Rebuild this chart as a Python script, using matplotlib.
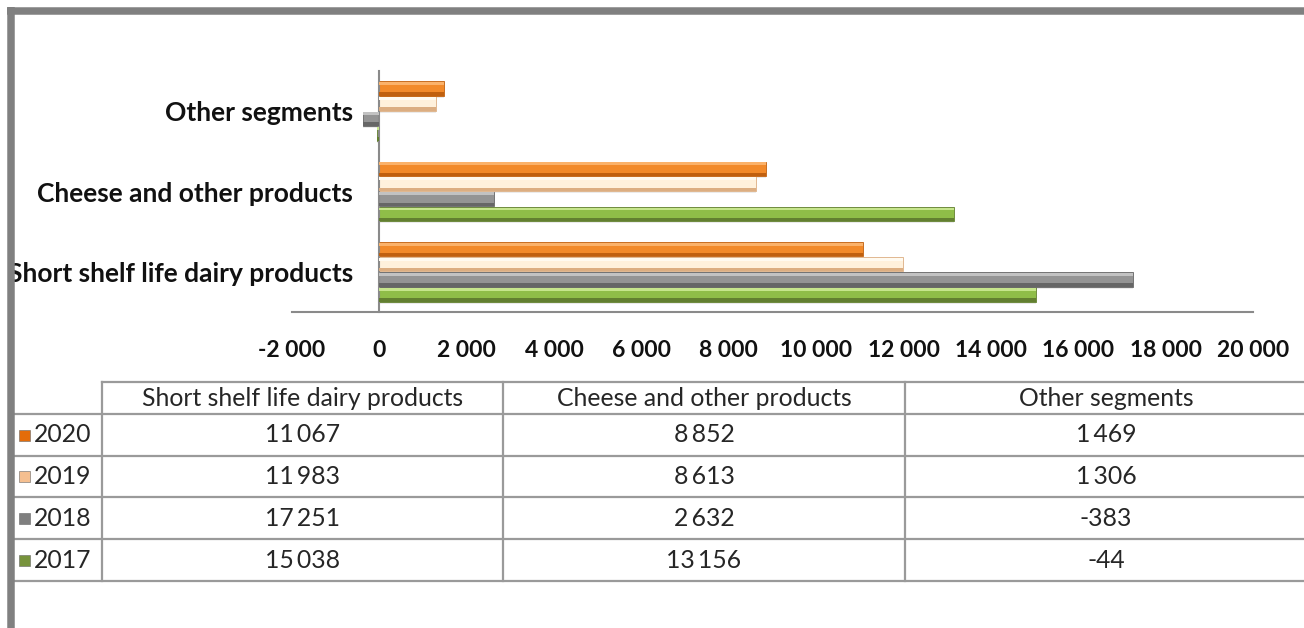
import numpy as np
import matplotlib
matplotlib.use('Agg')
import matplotlib.pyplot as plt
from matplotlib.patches import Rectangle
from matplotlib.lines import Line2D

plt.rcParams['font.family'] = ['Lato', 'DejaVu Sans']

# --- data ---
categories = ['Short shelf life dairy products', 'Cheese and other products', 'Other segments']
years = ['2017', '2018', '2019', '2020']
values = {
    '2017': [15038, 13156, -44],
    '2018': [17251, 2632, -383],
    '2019': [11983, 8613, 1306],
    '2020': [11067, 8852, 1469],
}
xticks = np.arange(-2000, 20001, 2000)

# bar colours: (main, highlight, shadow)
colors = {
    '2017': ('#8fbd48', '#c6e58c', '#627f30'),
    '2018': ('#949494', '#c2c2c2', '#666666'),
    '2019': ('#fff1dc', '#fffaf0', '#dcae82'),
    '2020': ('#f28a2a', '#fbb26a', '#c0600f'),
}
key_colors = {'2017': '#77933c', '2018': '#7f7f7f', '2019': '#f5bf90', '2020': '#e46c0a'}

W, H = 1304, 628
fig = plt.figure(figsize=(W / 100, H / 100), dpi=100)

def fx(px):
    return px / W

def fy(py):
    return 1 - py / H

# --- bar chart ---
ax = fig.add_axes([fx(292), fy(312), fx(1253 - 292), (312 - 71) / H])
# spine position first: it resets the tick label properties
ax.spines['left'].set_position(('data', 0))

pitch = 0.1875
bh = 0.178
y = np.arange(len(categories))
for i, yr in enumerate(years):
    yy = y + (i - 1.5) * pitch
    v = np.array(values[yr])
    main, hi, lo = colors[yr]
    # soft shadow
    ax.barh(yy - 0.028, v, height=bh, color='#000000', alpha=0.08, zorder=1)
    ax.barh(yy, v, height=bh, color=main, edgecolor=lo, linewidth=0.6, zorder=2)
    ax.barh(yy - bh / 2, v, height=bh * 0.24, align='edge', color=lo, linewidth=0, zorder=3)
    ax.barh(yy + bh / 2 - bh * 0.24, v, height=bh * 0.2, align='edge', color=hi, linewidth=0, zorder=3)

ax.set_xlim(-2000, 20000)
ax.set_ylim(-0.5, 2.5)
ax.set_xticks(xticks)
ax.set_xticklabels(['{:,}'.format(t).replace(',', ' ') for t in xticks],
                   fontsize=16.5, fontweight='bold', color='#111111')
ax.set_yticks(y)
ax.set_yticklabels(categories, fontsize=19, fontweight='bold', color='#111111')
for s in ['top', 'right']:
    ax.spines[s].set_visible(False)
for s in ['left', 'bottom']:
    ax.spines[s].set_color('#8a8a8a')
    ax.spines[s].set_linewidth(1.5)
ax.tick_params(axis='x', length=0, pad=20)
ax.tick_params(axis='y', length=0, pad=19)

# --- data table ---
tab = fig.add_axes([0, 0, 1, 1])
tab.set_xlim(0, W)
tab.set_ylim(H, 0)
tab.axis('off')
line_kw = dict(color='#9a9a9a', linewidth=1.6)
row_edges = [382, 414, 456, 497, 539, 581]
col_edges = [102, 503, 905, 1307]
tab.plot([col_edges[0], W], [row_edges[0]] * 2, **line_kw)
for ry in row_edges[1:]:
    tab.plot([15, W], [ry, ry], **line_kw)
for cx in col_edges[:-1]:
    tab.plot([cx, cx], [row_edges[0], row_edges[-1]], **line_kw)

tsize = 17.8
col_centers = [(col_edges[j] + col_edges[j + 1]) / 2 for j in range(3)]
hdr_y = (row_edges[0] + row_edges[1]) / 2
for j, cat in enumerate(categories):
    tab.text(col_centers[j], hdr_y, cat, ha='center', va='center', fontsize=tsize, color='#262626')

for r, yr in enumerate(years[::-1]):
    cy = (row_edges[r + 1] + row_edges[r + 2]) / 2
    tab.add_patch(Rectangle((19, cy - 5.5), 11, 11, facecolor=key_colors[yr],
                            edgecolor='#666666', linewidth=0.4))
    tab.text(34, cy, yr, ha='left', va='center', fontsize=tsize, color='#262626')
    for j in range(3):
        s = '{:,}'.format(values[yr][j]).replace(',', '\u2009')
        tab.text(col_centers[j], cy, s, ha='center', va='center', fontsize=tsize, color='#262626',
                 family=['Lato', 'DejaVu Sans'])

# --- outer frame (left and top border) ---
fig.add_artist(Line2D([fx(10.5), fx(10.5)], [0, fy(7)], color='#808080', linewidth=5.4,
                      solid_capstyle='butt', zorder=20))
fig.add_artist(Line2D([fx(7), 1], [fy(10.5), fy(10.5)], color='#808080', linewidth=5.4,
                      solid_capstyle='butt', zorder=20))
fig.add_artist(Rectangle((0, 0), fx(7), 1, facecolor='white', edgecolor='none', zorder=19))

fig.savefig('out.png', dpi=100)
